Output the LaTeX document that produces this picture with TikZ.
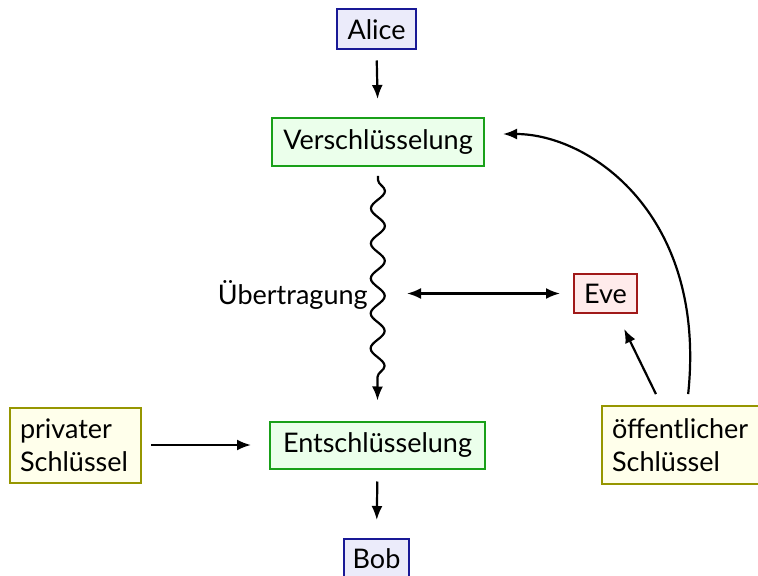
\documentclass[tikz,border=0pt]{standalone}
\usepackage{fontspec}
\setmainfont{Lato}
\usetikzlibrary{arrows.meta,decorations.pathmorphing}
\definecolor{bdblue}{RGB}{25,25,150}
\definecolor{fblue}{RGB}{235,235,250}
\definecolor{bdgreen}{RGB}{25,160,25}
\definecolor{fgreen}{RGB}{235,255,235}
\definecolor{bdred}{RGB}{160,25,25}
\definecolor{fred}{RGB}{255,235,235}
\definecolor{bdolive}{RGB}{150,150,0}
\definecolor{folive}{RGB}{255,255,235}
\tikzset{
  box/.style={draw, line width=1pt, inner sep=0pt, font=\fontsize{13.5}{16.5}\selectfont},
  person/.style={box, draw=bdblue, fill=fblue},
  crypt/.style={box, draw=bdgreen, fill=fgreen},
  spy/.style={box, draw=bdred, fill=fred},
  keybox/.style={box, draw=bdolive, fill=folive, align=left, inner xsep=5pt},
  arr/.style={-{Latex[length=7pt,width=5.5pt]}, line width=1.1pt},
  darr/.style={{Latex[length=7pt,width=5.5pt]}-{Latex[length=7pt,width=5.5pt]}, line width=1.1pt},
}
\begin{document}
\begin{tikzpicture}[x=0.5pt,y=-0.5pt]
\clip (0,0) rectangle (758,576);
\fill[white] (0,0) rectangle (758,576);
\node[person, minimum width=39.5pt, minimum height=20pt] (alice) at (376.5,29.5) {Alice};
\node[crypt, minimum width=106pt, minimum height=24pt] (ver) at (378,142) {Verschlüsselung};
\node[crypt, minimum width=107.5pt, minimum height=23.5pt] (ent) at (377.5,445) {Entschlüsselung};
\node[person, minimum width=32.5pt, minimum height=20pt] (bob) at (376.5,559) {Bob};
\node[spy, minimum width=31.5pt, minimum height=19.5pt] (eve) at (605.5,293.5) {Eve};
\node[keybox, text width=55.5pt, minimum height=37.5pt] (priv) at (75.5,445) {privater\\Schlüssel};
\node[keybox, text width=68.5pt, minimum height=39pt] (oeff) at (680.5,445) {öffentlicher\\Schlüssel};
\node[anchor=east, inner sep=0pt, font=\fontsize{13.5}{16.5}\selectfont] (uebt) at (368,295) {Übertragung};
\coordinate (tap) at (407,293.5);

\draw[arr, shorten <=5pt, shorten >=9pt] (alice.south) -- (ver.north);
\draw[arr, shorten <=6pt, shorten >=9pt] (ent.south) -- (bob.north);
\draw[arr, shorten <=4.5pt, shorten >=9pt] (priv.east) -- (ent.west);
\draw[arr, decorate, decoration={snake, amplitude=3.5pt, segment length=17.5pt, pre length=2pt, post length=6pt}] ([yshift=-4.5pt]ver.south) -- ([yshift=10pt]ent.north);
\draw[darr, shorten >=6.5pt] (tap) -- (eve.west);
\draw[arr, shorten <=6.1pt, shorten >=8.3pt] ([xshift=-9.6pt]oeff.north) -- ([xshift=5.65pt]eve.south);
\draw[arr, shorten <=5.5pt, shorten >=9pt] ([xshift=3.25pt]oeff.north) .. controls (707,215) and (590,134) .. ([yshift=4pt]ver.east);
\end{tikzpicture}
\end{document}
